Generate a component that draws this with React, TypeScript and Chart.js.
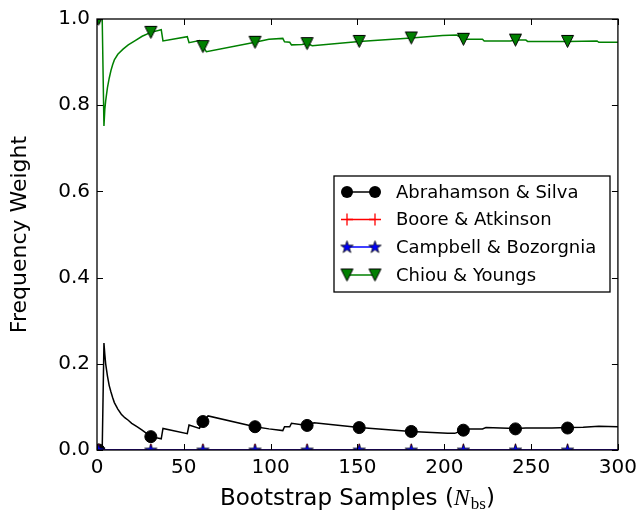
import React, { useEffect, useRef } from "react";
import { Chart, registerables } from "chart.js";

Chart.register(...registerables);

// ---------- data ----------
const markerSamples = [1, 31, 61, 91, 121, 151, 181, 211, 241, 271];
const abrahamsonMarkers = [0, 0.031, 0.066, 0.054, 0.057, 0.052, 0.043, 0.046, 0.049, 0.051];
const booreMarkers = [0, 0, 0, 0, 0, 0, 0, 0, 0, 0];
const campbellMarkers = [0, 0, 0, 0, 0, 0, 0, 0, 0, 0];
const chiouMarkers = [1.0, 0.969, 0.936, 0.946, 0.943, 0.948, 0.956, 0.953, 0.951, 0.948];

const abrahamsonLineSamples = [1, 3, 4, 4.5, 5, 6, 7, 8, 9, 10, 12, 14, 16, 18, 20, 23, 26, 31, 37, 38, 52, 53, 59, 61, 64, 91, 99, 107, 108, 111, 112, 121, 125, 151, 181, 202, 206, 211, 214, 222, 224, 241, 247, 262, 271, 280, 289, 300];
const abrahamsonLineWeights = [0, 0, 0.248, 0.222, 0.2, 0.172, 0.15, 0.135, 0.122, 0.11, 0.095, 0.083, 0.075, 0.069, 0.062, 0.054, 0.046, 0.031, 0.026, 0.05, 0.038, 0.058, 0.05, 0.066, 0.079, 0.054, 0.049, 0.045, 0.054, 0.054, 0.062, 0.057, 0.063, 0.052, 0.043, 0.0386, 0.0386, 0.046, 0.049, 0.049, 0.052, 0.05, 0.051, 0.051, 0.052, 0.053, 0.055, 0.054];

const booreLineSamples = [1, 300];
const booreLineWeights = [0, 0];
const campbellLineSamples = [1, 300];
const campbellLineWeights = [0, 0];

const chiouLineSamples = [1, 3, 4, 4.5, 5, 6, 7, 8, 9, 10, 12, 15, 18, 22, 26, 31, 37, 38, 52, 53, 59, 61, 63, 91, 99, 107, 108, 111, 112, 118, 121, 124, 151, 181, 199, 207, 211, 222, 223, 238, 241, 247, 248, 268, 271, 288, 289, 300];
const chiouLineWeights = [1, 1, 0.752, 0.79, 0.81, 0.84, 0.862, 0.88, 0.894, 0.905, 0.918, 0.93, 0.94, 0.95, 0.96, 0.969, 0.975, 0.949, 0.959, 0.945, 0.95, 0.936, 0.924, 0.946, 0.953, 0.955, 0.947, 0.946, 0.94, 0.941, 0.943, 0.938, 0.948, 0.956, 0.962, 0.963, 0.953, 0.953, 0.949, 0.949, 0.951, 0.951, 0.948, 0.948, 0.948, 0.949, 0.946, 0.946];

const seriesNames = ["Abrahamson & Silva", "Boore & Atkinson", "Campbell & Bozorgnia", "Chiou & Youngs"];
const seriesColors = ["#000000", "#ff0000", "#0000ff", "#008000"];

const xTitle = "Bootstrap Samples (";
const yTitle = "Frequency Weight";

const FONT = "'DejaVu Sans', sans-serif";

// ---------- marker images ----------
function makeTriangleDown(): HTMLCanvasElement {
  const c = document.createElement("canvas");
  c.width = 15; c.height = 15;
  const g = c.getContext("2d")!;
  g.beginPath();
  g.moveTo(1.5, 1.5); g.lineTo(13.5, 1.5); g.lineTo(7.5, 13.5); g.closePath();
  g.fillStyle = "#008000"; g.fill();
  g.strokeStyle = "#000"; g.lineWidth = 1; g.stroke();
  return c;
}
function makeStar(): HTMLCanvasElement {
  const c = document.createElement("canvas");
  c.width = 15; c.height = 15;
  const g = c.getContext("2d")!;
  const R = 6.5, r = R * 0.382;
  g.beginPath();
  for (let i = 0; i < 10; i++) {
    const ang = -Math.PI / 2 + (i * Math.PI) / 5;
    const rr = i % 2 === 0 ? R : r;
    const px = 7.5 + rr * Math.cos(ang), py = 7.8 + rr * Math.sin(ang);
    if (i === 0) g.moveTo(px, py); else g.lineTo(px, py);
  }
  g.closePath();
  g.fillStyle = "#0000ff"; g.fill();
  g.strokeStyle = "#000"; g.lineWidth = 0.8; g.stroke();
  return c;
}

export default function App() {
  const ref = useRef<HTMLCanvasElement | null>(null);

  useEffect(() => {
    document.body.style.margin = "0";
    const tri = makeTriangleDown();
    const star = makeStar();

    const pts = (xs: number[], ys: number[]) => xs.map((x, i) => ({ x, y: ys[i] }));

    const drawMarker = (ctx: CanvasRenderingContext2D, idx: number, x: number, y: number) => {
      if (idx === 0) {
        ctx.beginPath(); ctx.arc(x, y, 6, 0, Math.PI * 2);
        ctx.fillStyle = "#000"; ctx.fill();
      } else if (idx === 1) {
        ctx.beginPath(); ctx.moveTo(x - 6, y); ctx.lineTo(x + 6, y); ctx.moveTo(x, y - 6); ctx.lineTo(x, y + 6);
        ctx.strokeStyle = "#ff0000"; ctx.lineWidth = 1.3; ctx.stroke();
      } else if (idx === 2) {
        ctx.drawImage(star, x - 7.5, y - 7.5);
      } else {
        ctx.drawImage(tri, x - 7.5, y - 7.5);
      }
    };

    const mplPlugin = {
      id: "mplAxes",
      afterDatasetsDraw(chart: any) {
        const { ctx, chartArea: a, scales } = chart;
        ctx.save();
        ctx.strokeStyle = "#000";
        ctx.lineWidth = 1.3;
        ctx.strokeRect(a.left, a.top, a.right - a.left, a.bottom - a.top);
        ctx.lineWidth = 1;
        const tl = 6;
        ctx.beginPath();
        scales.x.ticks.forEach((t: any) => {
          const px = Math.round(scales.x.getPixelForValue(t.value)) + 0.5;
          ctx.moveTo(px, a.bottom); ctx.lineTo(px, a.bottom - tl);
          ctx.moveTo(px, a.top); ctx.lineTo(px, a.top + tl);
        });
        scales.y.ticks.forEach((t: any) => {
          const py = Math.round(scales.y.getPixelForValue(t.value)) + 0.5;
          ctx.moveTo(a.left, py); ctx.lineTo(a.left + tl, py);
          ctx.moveTo(a.right, py); ctx.lineTo(a.right - tl, py);
        });
        ctx.stroke();
        ctx.restore();
      },
      afterDraw(chart: any) {
        const { ctx, chartArea: a } = chart;
        ctx.save();
        // legend
        const bx = 334, by = 176, bw = 276, bh = 116;
        ctx.fillStyle = "#fff";
        ctx.fillRect(bx, by, bw, bh);
        ctx.strokeStyle = "#000"; ctx.lineWidth = 1.3;
        ctx.strokeRect(bx, by, bw, bh);
        const rowY = [192, 219.5, 247, 275];
        ctx.font = `18px ${FONT}`;
        ctx.textBaseline = "middle";
        ctx.textAlign = "left";
        seriesNames.forEach((name, i) => {
          const y = rowY[i];
          ctx.beginPath(); ctx.moveTo(347, y); ctx.lineTo(375, y);
          ctx.strokeStyle = seriesColors[i]; ctx.lineWidth = 1.5; ctx.stroke();
          drawMarker(ctx, i, 347, y);
          drawMarker(ctx, i, 375, y);
          ctx.fillStyle = "#000";
          ctx.fillText(name, 396, y + 1);
        });
        // x title
        const cx = (a.left + a.right) / 2;
        const ty = 497;
        ctx.font = `23px ${FONT}`;
        const w1 = ctx.measureText(xTitle).width;
        ctx.font = `italic 24px 'Liberation Serif', serif`;
        const wN = ctx.measureText("N").width;
        ctx.font = `17px 'Liberation Serif', serif`;
        const wbs = ctx.measureText("bs").width;
        ctx.font = `23px ${FONT}`;
        const wp = ctx.measureText(")").width;
        let x = cx - (w1 + wN + 1 + wbs + wp) / 2;
        ctx.fillStyle = "#000";
        ctx.textBaseline = "alphabetic";
        ctx.fillText(xTitle, x, ty + 8); x += w1;
        ctx.font = `italic 24px 'Liberation Serif', serif`;
        ctx.fillText("N", x, ty + 8); x += wN + 1;
        ctx.font = `17px 'Liberation Serif', serif`;
        ctx.fillText("bs", x, ty + 12); x += wbs;
        ctx.font = `23px ${FONT}`;
        ctx.fillText(")", x, ty + 8);
        // y title
        ctx.font = `22px ${FONT}`;
        ctx.translate(20, (a.top + a.bottom) / 2);
        ctx.rotate(-Math.PI / 2);
        ctx.textAlign = "center";
        ctx.textBaseline = "middle";
        ctx.fillText(yTitle, 0, 0);
        ctx.restore();
      },
    };

    const lineDs = (label: string, xs: number[], ys: number[], color: string, order: number) => ({
      label,
      data: pts(xs, ys),
      borderColor: color,
      backgroundColor: color,
      borderWidth: 1.5,
      pointRadius: 0,
      showLine: true,
      order,
    });

    const chart = new Chart(ref.current!, {
      type: "scatter",
      data: {
        datasets: [
          lineDs(seriesNames[3], chiouLineSamples, chiouLineWeights, seriesColors[3], 2),
          {
            label: "chiou markers",
            data: pts(markerSamples, chiouMarkers),
            showLine: false,
            pointStyle: tri as any,
            pointRadius: 7,
            clip: 0,
            order: 1,
          },
          lineDs(seriesNames[2], campbellLineSamples, campbellLineWeights, seriesColors[2], 4),
          {
            label: "campbell markers",
            data: pts(markerSamples, campbellMarkers),
            showLine: false,
            pointStyle: star as any,
            pointRadius: 7,
            clip: 0,
            order: 3,
          },
          lineDs(seriesNames[1], booreLineSamples, booreLineWeights, seriesColors[1], 6),
          {
            label: "boore markers",
            data: pts(markerSamples, booreMarkers),
            showLine: false,
            pointStyle: "cross",
            pointRadius: 6,
            borderColor: "#ff0000",
            borderWidth: 1.3,
            clip: 0,
            order: 5,
          },
          lineDs(seriesNames[0], abrahamsonLineSamples, abrahamsonLineWeights, seriesColors[0], 8),
          {
            label: "abrahamson markers",
            data: pts(markerSamples, abrahamsonMarkers),
            showLine: false,
            pointStyle: "circle",
            pointRadius: 6,
            backgroundColor: "#000",
            borderColor: "#000",
            borderWidth: 1,
            clip: 0,
            order: 7,
          },
        ] as any,
      },
      options: {
        responsive: false,
        animation: false,
        devicePixelRatio: 1,
        layout: { padding: { top: 18, right: 22, left: 0, bottom: 0 } },
        plugins: { legend: { display: false }, tooltip: { enabled: false } },
        events: [],
        scales: {
          x: {
            type: "linear",
            min: 0,
            max: 300,
            grid: { display: false, drawTicks: false },
            border: { display: false },
            ticks: { stepSize: 50, padding: 6, color: "#000", font: { family: FONT, size: 20 }, maxRotation: 0 },
            afterFit: (s: any) => { s.height = 68; },
          },
          y: {
            type: "linear",
            min: 0,
            max: 1,
            grid: { display: false, drawTicks: false },
            border: { display: false },
            ticks: {
              stepSize: 0.2,
              padding: 7,
              color: "#000",
              font: { family: FONT, size: 20 },
              callback: (v: any) => Number(v).toFixed(1),
            },
            afterFit: (s: any) => { s.width = 97; },
          },
        },
      },
      plugins: [mplPlugin],
    } as any);

    return () => chart.destroy();
  }, []);

  return (
    <div style={{ width: 643, height: 518 }}>
      <canvas ref={ref} width={643} height={518} style={{ display: "block" }} />
    </div>
  );
}
